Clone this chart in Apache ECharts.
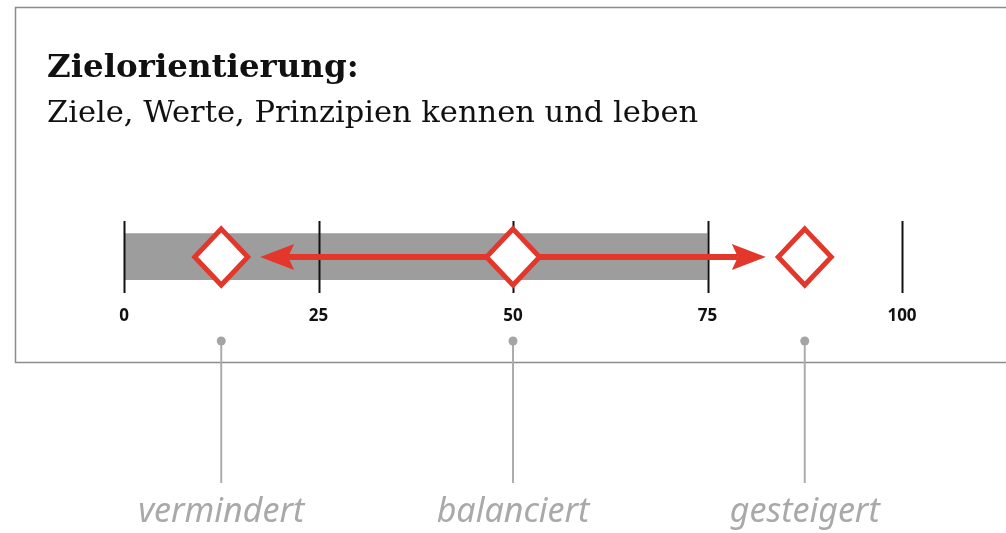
<!DOCTYPE html>
<html>
<head>
<meta charset="utf-8">
<script src="https://cdn.jsdelivr.net/npm/echarts@6/dist/echarts.min.js"></script>
<style>
  html, body { margin: 0; padding: 0; background: #fff; }
  #main { width: 1006px; height: 533px; }
</style>
</head>
<body>
<div id="main"></div>
<script>
// Werte der Skala
var tickValues = [0, 25, 50, 75, 100];
var rangeBar = [0, 75];            // grauer Balken
var arrowRange = [17.5, 82.5];     // Doppelpfeil
var markerValues = [12.5, 50, 87.5];
var stateLabels = ['vermindert', 'balanciert', 'gesteigert'];

var RED = '#e2372a';

var myChart = echarts.init(document.getElementById('main'));

// grauer Balken + Teilstriche
function renderBar(params, api) {
	var p0 = api.coord([api.value(0), 0.83]);
	var p1 = api.coord([api.value(1), 0.18]);
	var children = [{
		type: 'rect',
		shape: { x: p0[0], y: p0[1], width: p1[0] - p0[0], height: p1[1] - p0[1] },
		style: { fill: '#9d9d9e' }
	}];
	for (var i in tickValues) {
		var t0 = api.coord([tickValues[i], 1]);
		var t1 = api.coord([tickValues[i], 0]);
		children.push({
			type: 'line',
			shape: { x1: Math.round(t0[0]) + 0.5, y1: t0[1], x2: Math.round(t0[0]) + 0.5, y2: t1[1] },
			style: { stroke: '#111', lineWidth: 2 }
		});
	}
	return { type: 'group', children: children };
}

// Doppelpfeil
function renderArrow(params, api) {
	var a = api.coord([api.value(0), 0.5]);
	var b = api.coord([api.value(1), 0.5]);
	var y = a[1];
	var len = 34, half = 13, notch = 6;
	return {
		type: 'group',
		children: [{
			type: 'line',
			shape: { x1: a[0] + len - notch, y1: y, x2: b[0] - len + notch, y2: y },
			style: { stroke: RED, lineWidth: 6 }
		}, {
			type: 'polygon',
			shape: { points: [[a[0], y], [a[0] + len, y - half], [a[0] + len - notch, y], [a[0] + len, y + half]] },
			style: { fill: RED }
		}, {
			type: 'polygon',
			shape: { points: [[b[0], y], [b[0] - len, y - half], [b[0] - len + notch, y], [b[0] - len, y + half]] },
			style: { fill: RED }
		}]
	};
}

// Punkte, Linien und Beschriftung unter dem Kasten
function renderStem(params, api) {
	var x = api.coord([api.value(0), 0])[0];
	return {
		type: 'group',
		children: [{
			type: 'line',
			shape: { x1: x, y1: 341, x2: x, y2: 483 },
			style: { stroke: '#acacac', lineWidth: 2 }
		}, {
			type: 'circle',
			shape: { cx: x, cy: 341, r: 4.5 },
			style: { fill: '#a5a5a5' }
		}, {
			type: 'text',
			style: {
				text: stateLabels[params.dataIndex],
				x: x, y: 512,
				align: 'center', verticalAlign: 'middle',
				fill: '#a9a9a9',
				font: 'italic 34px "Noto Sans"'
			}
		}]
	};
}

var option = {
	animation: false,
	title: {
		text: 'Zielorientierung:',
		subtext: 'Ziele, Werte, Prinzipien kennen und leben',
		left: 42,
		top: 47,
		itemGap: 14,
		textStyle: { fontFamily: 'DejaVu Serif', fontWeight: 'bold', fontSize: 32.5, color: '#111' },
		subtextStyle: { fontFamily: 'DejaVu Serif', fontSize: 30.5, color: '#111' }
	},
	graphic: [{
		type: 'rect',
		shape: { x: 15.5, y: 7.5, width: 1100, height: 355 },
		style: { fill: 'none', stroke: '#8c8c8c', lineWidth: 1.5 },
		silent: true
	}],
	grid: { left: 124, right: 104, top: 221, bottom: 240 },
	xAxis: {
		type: 'value',
		min: 0,
		max: 100,
		interval: 25,
		axisLine: { show: false },
		axisTick: { show: false },
		splitLine: { show: false },
		axisLabel: {
			margin: 15,
			color: '#111',
			fontFamily: 'Open Sans',
			fontWeight: 'bold',
			fontSize: 17
		}
	},
	yAxis: { type: 'value', min: 0, max: 1, show: false },
	series: [{
		type: 'custom',
		renderItem: renderBar,
		data: [rangeBar],
		z: 1
	}, {
		type: 'custom',
		renderItem: renderArrow,
		data: [arrowRange],
		z: 2
	}, {
		type: 'scatter',
		symbol: 'diamond',
		symbolSize: [53, 56],
		itemStyle: { color: '#fff', borderColor: RED, borderWidth: 5, opacity: 1 },
		data: markerValues.map(function (v) { return [v, 0.5]; }),
		z: 3
	}, {
		type: 'custom',
		renderItem: renderStem,
		data: markerValues.map(function (v) { return [v]; }),
		clip: false,
		z: 4
	}]
};
myChart.setOption(option);
</script>
</body>
</html>
